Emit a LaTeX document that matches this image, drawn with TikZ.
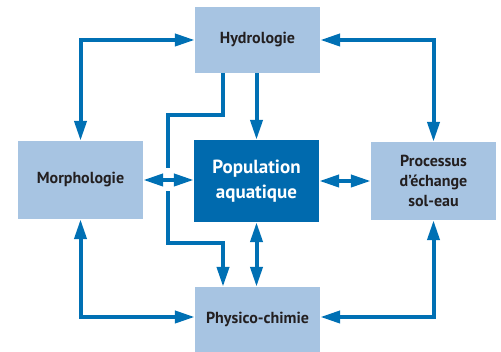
\documentclass[tikz,border=0pt]{standalone}
\usepackage{fontspec}
\setmainfont{PT Sans}
\usetikzlibrary{arrows.meta,calc}
\definecolor{boxlight}{RGB}{167,196,226}
\definecolor{boxdark}{RGB}{0,106,174}
\definecolor{arrowblue}{RGB}{0,112,180}
\definecolor{txt}{RGB}{35,31,32}
\tikzset{
  lbox/.style={fill=boxlight, draw=none, minimum width=125pt, inner sep=0pt, align=center,
    text=txt, font=\bfseries\fontsize{16}{20}\selectfont},
  dbox/.style={fill=boxdark, draw=none, minimum width=125pt, inner sep=0pt, align=center,
    text=white, font=\bfseries\fontsize{19}{25}\selectfont},
  conn/.style={draw=arrowblue, line width=4pt, line join=miter,
    arrows={-Triangle[length=20pt,width=12pt]}},
  dconn/.style={draw=arrowblue, line width=4pt, line join=miter,
    arrows={Triangle[length=20pt,width=12pt]-Triangle[length=20pt,width=12pt]}},
}
\begin{document}
\begin{tikzpicture}[x=1pt,y=-1pt]
\useasboundingbox (0,0) rectangle (501,352);
\node[lbox, minimum height=66pt] (hyd) at (257.5,40) {Hydrologie};
\node[lbox, minimum height=78pt] (morph) at (80.5,180) {Morphologie};
\node[dbox, minimum height=82pt] (pop) at (256.5,181) {Population\\aquatique};
\node[lbox, minimum height=78pt] (proc) at (433.5,181) {Processus\\d’échange\\sol-eau};
\node[lbox, minimum height=65pt] (phys) at (257.5,319.5) {Physico-chimie};

\coordinate (b1) at (223,73);
\coordinate (b2) at (223,115);
\coordinate (b3) at (168,115);
\coordinate (b4) at (168,243);
\coordinate (b5) at (223,243);
\coordinate (g1) at (168,168);
\coordinate (g2) at (168,191);

% outer loop
\draw[dconn] (hyd.west) -| (morph.north);
\draw[dconn] (hyd.east) -| (proc.north);
\draw[dconn] (morph.south) |- ([yshift=2.5pt]phys.west);
\draw[dconn] (proc.south) |- ([yshift=2.5pt]phys.east);

% hydrologie to physico-chimie
\draw[conn] (b1) -- (b2) -- (b3) -- (b4) -- (b5) -- (b5 |- phys.north);
\draw[white, line width=7pt] (g1) -- (g2);

% inner links
\draw[conn] (pop.north |- hyd.south) -- (pop.north);
\draw[dconn] (morph.east) -- (morph.east -| pop.west);
\draw[dconn] (pop.east) -- (pop.east -| proc.west);
\draw[dconn] (pop.south) -- (pop.south |- phys.north);
\end{tikzpicture}
\end{document}
